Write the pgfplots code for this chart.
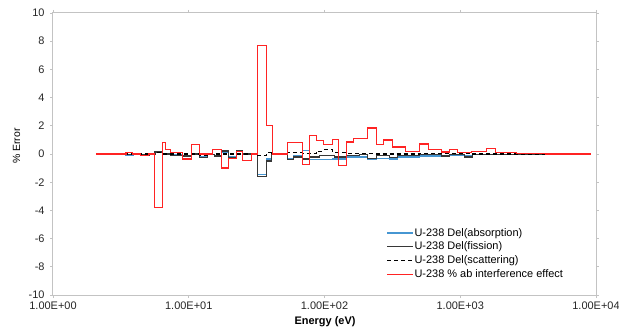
\documentclass[border=0pt]{standalone}
\usepackage{pgfplots}
\pgfplotsset{compat=1.18}
\usepackage{fontspec}
\setmainfont{Liberation Sans}
\definecolor{cred}{RGB}{255,35,35}
\definecolor{cblue}{RGB}{70,150,210}
\definecolor{cblack}{RGB}{55,55,55}
\definecolor{cframe}{RGB}{195,195,195}
\begin{document}
\begin{tikzpicture}
\useasboundingbox (-53bp,-34bp) rectangle (566bp,295bp);
\begin{axis}[
  at={(0,0)}, anchor=south west, scale only axis,
  width=543bp, height=282bp,
  xmode=log, xmin=1, xmax=10000, ymin=-10, ymax=10,
  xtick={1,10,100,1000,10000},
  xticklabels={1.00E+00,1.00E+01,1.00E+02,1.00E+03,1.00E+04},
  xminorticks=false,
  ytick={-10,-8,-6,-4,-2,0,2,4,6,8,10},
  /pgf/number format/assume math mode=true,
  tick align=outside, major tick length=3bp,
  axis line style={draw=cframe, line width=1bp},
  tick style={draw=cframe, line width=0.8bp},
  tick label style={font=\fontsize{11}{13}\selectfont, text=black!85},
  yticklabel style={xshift=-2bp},
  xlabel={\bfseries Energy (eV)},
  ylabel={\% Error},
  xlabel style={font=\fontsize{11}{13}\selectfont, at={(axis description cs:0.501,-0.0957)}, anchor=center},
  ylabel style={font=\fontsize{10.5}{12}\selectfont, at={(axis description cs:-0.0672,0.528)}, anchor=center},
  legend cell align=left,
  legend style={draw=none, fill=none, at={(rel axis cs:0.6085,0.248)}, anchor=north west,
    font=\fontsize{11}{13}\selectfont, row sep=2.3bp,
    nodes={inner sep=1bp}},
  legend image post style={xscale=1.5},
]
\addplot[const plot, cblue, line width=1.4bp] coordinates {
(2.625,0) (3.442,-0.08) (3.875,0) (4.437,-0.05) (5.081,0) (5.623,0.1) (6.438,0)
(7.373,-0.05) (9.035,-0.1) (10.52,0.05) (12.05,-0.2) (13.80,-0.05) (15.53,-0.1)
(17.49,0.15) (19.68,-0.2) (22.54,0.2) (24.95,0) (32.16,-1.45) (37.46,-0.35)
(40.76,0) (53.45,-0.3) (59.17,-0.1) (68.89,0.25) (77.57,-0.4) (114.5,-0.35)
(145.1,-0.2) (207.1,-0.4) (241.2,-0.3) (300.6,-0.35) (344.2,-0.2) (499.4,-0.15)
(725.0,-0.1) (1225,-0.05) (2581,0) (4289,0)};
\addlegendentry{U-238 Del(absorption)}
\addplot[const plot, cblack, line width=1.4bp] coordinates {
(2.625,0) (3.442,-0.05) (3.875,0) (4.437,-0.08) (5.081,0) (5.623,0.15) (6.438,0)
(7.373,-0.1) (9.035,-0.15) (10.52,0) (12.05,-0.25) (13.80,-0.05) (15.53,-0.15)
(17.49,0.2) (19.68,-0.25) (22.54,0.25) (24.95,0) (32.16,-1.6) (37.46,-0.5)
(40.76,0) (53.45,-0.4) (59.17,-0.2) (68.89,-0.35) (77.57,-0.2) (91.88,-0.1)
(118.4,-0.2) (145.1,-0.1) (180.9,-0.05) (207.1,-0.3) (241.2,-0.1) (300.6,-0.25)
(344.2,-0.1) (499.4,-0.05) (725.0,-0.15) (830.1,-0.05) (1070,-0.2) (1225,-0.05)
(2581,0) (4289,0)};
\addlegendentry{U-238 Del(fission)}
\addplot[const plot, black, dash pattern=on 4bp off 3bp, line width=1.3bp] coordinates {
(2.625,0) (5.623,0.1) (6.438,0) (12.05,-0.1) (13.80,0) (32.16,-0.1) (37.46,0.1)
(40.76,0) (53.45,0.1) (68.89,0.05) (87.35,0.2) (98.32,0.3) (114.5,0.1) (145.1,0.05)
(241.2,0) (499.4,0.05) (1225,0) (4289,0)};
\addlegendentry{U-238 Del(scattering)}
\addplot[const plot, cred, line width=1.3bp] coordinates {
(2.07,0) (3.442,0.1) (3.875,0) (4.437,-0.1) (5.081,0) (5.623,-3.8) (6.438,0.8)
(6.773,0.3) (7.373,0.1) (9.035,-0.35) (10.52,0.65) (12.05,0) (15.01,0.3)
(17.49,-1.0) (19.68,-0.3) (22.54,0.2) (24.95,-0.45) (29.06,0) (32.16,7.7)
(37.46,2.0) (41.46,0) (53.45,0.8) (68.89,-0.75) (77.57,1.3) (87.35,0.95)
(98.32,0.65) (114.5,1.05) (126.8,-0.8) (145.1,0.85) (163.4,1.1) (207.1,1.85)
(241.2,0.65) (271.6,1.0) (316.2,0.5) (394.1,0.2) (499.4,0.7) (581.8,0.3)
(725.0,0.15) (830.1,0.3) (950.5,0.1) (1205,0.2) (1553,0.4) (1809,0.1)
(2581,0.05) (4289,0) (9190,0)};
\addlegendentry{U-238 \% ab interference effect}
\end{axis}
\end{tikzpicture}
\end{document}
